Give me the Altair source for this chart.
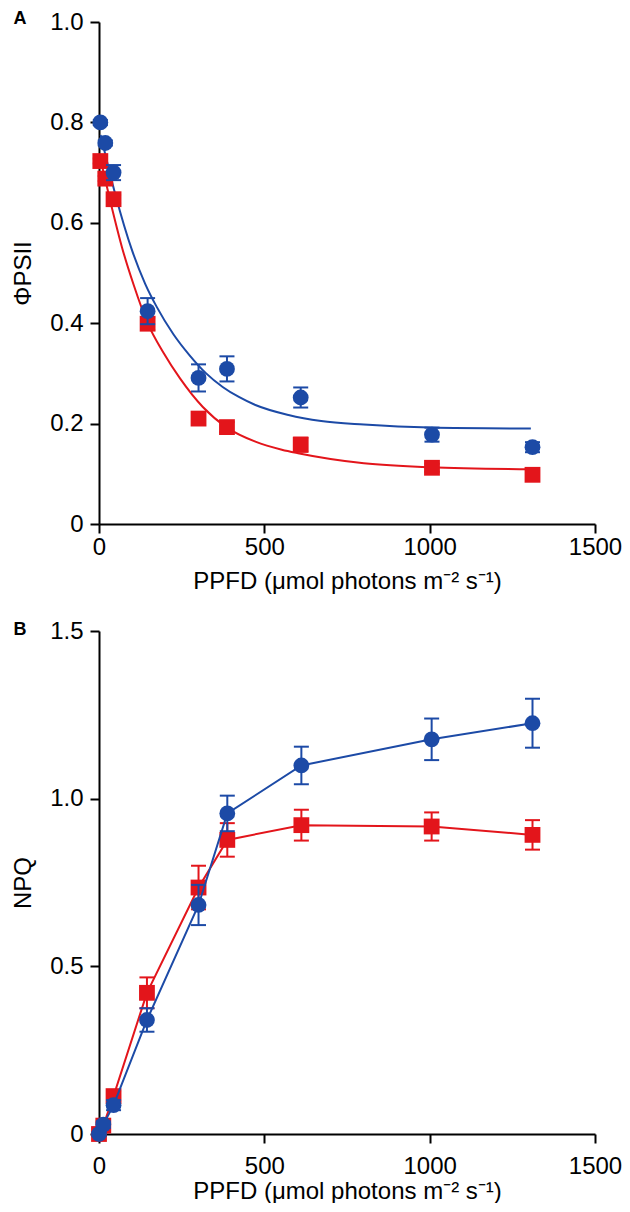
import altair as alt
import pandas as pd

# ---------------- Panel A data (PhiPSII) ----------------
ppfd_a = [4, 19, 44, 147, 301, 387, 610, 1007, 1311]
phi_blue = [0.800, 0.759, 0.700, 0.424, 0.291, 0.309, 0.252, 0.178, 0.153]
phi_blue_err = [0.005, 0.005, 0.015, 0.026, 0.027, 0.025, 0.020, 0.014, 0.010]
phi_red = [0.723, 0.688, 0.647, 0.399, 0.210, 0.193, 0.158, 0.112, 0.098]
phi_red_err = [0.005, 0.005, 0.008, 0.012, 0.008, 0.010, 0.014, 0.008, 0.006]

# fitted curves
fit_blue_x = [5, 50, 100, 140, 175, 225, 274, 324, 374, 423, 473, 573, 672, 801, 1000, 1306]
fit_blue_y = [0.775, 0.655, 0.545, 0.478, 0.432, 0.378, 0.336, 0.300, 0.273, 0.253, 0.237,
              0.217, 0.205, 0.198, 0.192, 0.190]
fit_red_x = [5, 36, 70, 105, 147, 195, 245, 314, 387, 473, 553, 602, 801, 1000, 1308]
fit_red_y = [0.725, 0.638, 0.550, 0.476, 0.400, 0.341, 0.290, 0.233, 0.192, 0.164, 0.148,
             0.141, 0.121, 0.113, 0.109]

# ---------------- Panel B data (NPQ) ----------------
ppfd_b = [0, 13, 44, 145, 301, 388, 612, 1006, 1311]
npq_blue = [0.000, 0.028, 0.086, 0.340, 0.683, 0.956, 1.099, 1.177, 1.225]
npq_blue_err = [0.005, 0.010, 0.015, 0.035, 0.060, 0.053, 0.056, 0.062, 0.073]
npq_red = [0.000, 0.025, 0.113, 0.421, 0.735, 0.877, 0.921, 0.917, 0.892]
npq_red_err = [0.005, 0.010, 0.015, 0.046, 0.065, 0.050, 0.046, 0.042, 0.044]

x_ticks = [0, 500, 1000, 1500]
a_ticks = [0, 0.2, 0.4, 0.6, 0.8, 1.0]
b_ticks = [0, 0.5, 1.0, 1.5]

BLUE = "#1c4aa6"
RED = "#e3151b"
FONT = "Liberation Sans"
X_TITLE = "PPFD (\u03bcmol photons m\u207b\u00b2 s\u207b\u00b9)"


def series_df(x, y, err):
    return pd.DataFrame({
        "x": x, "y": y,
        "lo": [a - b for a, b in zip(y, err)],
        "hi": [a + b for a, b in zip(y, err)],
    })


def panel(letter, ytitle, ydomain, yticks, series, fits, connect, height,
          xlabpad, xtitlepad, lety):
    xs = alt.Scale(domain=[0, 1500], nice=False)
    ys = alt.Scale(domain=ydomain, nice=False)
    xaxis = alt.Axis(values=x_ticks, format="d", title=X_TITLE, labelFlush=False,
                     labelPadding=xlabpad, titlePadding=xtitlepad)
    yaxis = alt.Axis(values=yticks, title=ytitle, labelFlush=False,
                     labelExpr="datum.value == 0 ? '0' : format(datum.value, '.1f')")

    def X(f):
        return alt.X(f, type="quantitative", scale=xs, axis=xaxis, title=X_TITLE)

    def Y(f):
        return alt.Y(f, type="quantitative", scale=ys, axis=yaxis, title=ytitle)

    layers = []
    for fx, fy, color in fits:
        fdf = pd.DataFrame({"x": fx, "y": fy})
        layers.append(alt.Chart(fdf).mark_line(color=color, strokeWidth=2,
                                                interpolate="monotone")
                      .encode(x=X("x"), y=Y("y")))
    for df, color, shape in series:
        base = alt.Chart(df)
        if connect:
            layers.append(base.mark_line(color=color, strokeWidth=2)
                          .encode(x=X("x"), y=Y("y")))
        layers.append(base.mark_rule(color=color, strokeWidth=2)
                      .encode(x=X("x"), y=Y("lo"), y2="hi"))
        layers.append(base.mark_tick(color=color, orient="horizontal", size=15,
                                     thickness=2, opacity=1)
                      .encode(x=X("x"), y=Y("lo")))
        layers.append(base.mark_tick(color=color, orient="horizontal", size=15,
                                     thickness=2, opacity=1)
                      .encode(x=X("x"), y=Y("hi")))
        layers.append(base.mark_point(shape=shape, filled=True, size=250,
                                      color=color, opacity=1)
                      .encode(x=X("x"), y=Y("y")))
    lab = alt.Chart(pd.DataFrame({"t": [letter]})).mark_text(
        fontSize=18, fontWeight="bold", font=FONT, color="black",
        align="center", baseline="alphabetic"
    ).encode(text="t:N", x=alt.value(-79), y=alt.value(lety))
    layers.append(lab)
    return alt.layer(*layers).properties(width=496, height=height)


panel_a = panel(
    "A", "\u03a6PSII", [0, 1.0], a_ticks,
    [(series_df(ppfd_a, phi_red, phi_red_err), RED, "square"),
     (series_df(ppfd_a, phi_blue, phi_blue_err), BLUE, "circle")],
    [(fit_red_x, fit_red_y, RED), (fit_blue_x, fit_blue_y, BLUE)],
    False, 502, 2, 10, 2)

panel_b = panel(
    "B", "NPQ", [0, 1.5], b_ticks,
    [(series_df(ppfd_b, npq_red, npq_red_err), RED, "square"),
     (series_df(ppfd_b, npq_blue, npq_blue_err), BLUE, "circle")],
    [], True, 503, 11, 1, 4)

chart = alt.vconcat(panel_a, panel_b, spacing=26).properties(
    padding={"left": 3, "top": 2, "right": 0, "bottom": 0}
).configure_view(stroke=None).configure_axis(
    grid=False,
    domainColor="black", domainWidth=2,
    tickColor="black", tickWidth=2, tickSize=9,
    labelColor="black", labelFont=FONT, labelFontSize=24,
    titleColor="black", titleFont=FONT, titleFontSize=24, titleFontWeight="normal",
).configure_axisY(
    labelPadding=7, titlePadding=14
)

chart.save("out.html", embed_options={"renderer": "svg", "actions": False})
